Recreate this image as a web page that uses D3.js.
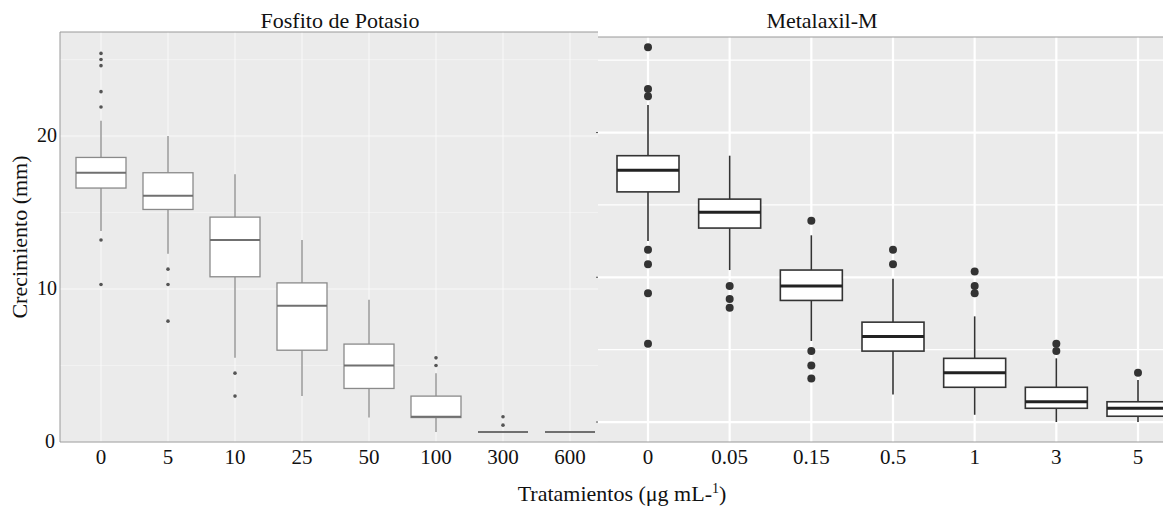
<!DOCTYPE html>
<html lang="es">
<head>
    <meta charset="UTF-8">
    <title>Crecimiento por tratamiento</title>
    <style>
        body { margin: 0; background: #fff; }
        svg text { font-family: "Liberation Serif", "Times New Roman", "DejaVu Serif", serif; fill: #111; }
    </style>
    <script src="https://d3js.org/d3.v7.min.js"></script>
</head>
<body>
    <div id="chart"></div>
    <script>
        // Fosfito de Potasio (left panel)
        const fosfitoDoses = ["0", "5", "10", "25", "50", "100", "300", "600"];
        const fosfitoLow  = [13.8, 12.3, 5.5, 3.0, 1.6, 0.65, 0.65, 0.65];
        const fosfitoQ1   = [16.6, 15.2, 10.8, 6.0, 3.5, 1.6, 0.65, 0.65];
        const fosfitoMed  = [17.6, 16.1, 13.2, 8.9, 5.0, 1.65, 0.65, 0.65];
        const fosfitoQ3   = [18.6, 17.6, 14.7, 10.4, 6.4, 3.0, 0.65, 0.65];
        const fosfitoHigh = [21.0, 20.0, 17.5, 13.2, 9.3, 4.5, 0.65, 0.65];
        const fosfitoOut  = [
            [25.4, 25.0, 24.6, 22.9, 21.9, 13.2, 10.3],
            [11.3, 10.3, 7.9],
            [4.5, 3.0],
            [], [],
            [5.0, 5.5],
            [1.1, 1.65],
            []
        ];
        const fosfitoTicks = [0, 10, 20];

        // Metalaxil-M (right panel)
        const metaDoses = ["0", "0.05", "0.15", "0.5", "1", "3", "5"];
        const metaLow  = [12.5, 10.5, 5.6, 1.9, 0.5, 0.0, 0.0];
        const metaQ1   = [15.9, 13.4, 8.4, 4.9, 2.4, 0.95, 0.4];
        const metaMed  = [17.4, 14.5, 9.4, 5.9, 3.4, 1.4, 0.95];
        const metaQ3   = [18.4, 15.4, 10.5, 6.9, 4.4, 2.4, 1.4];
        const metaHigh = [21.9, 18.4, 12.9, 9.9, 7.3, 4.4, 2.9];
        const metaOut  = [
            [25.9, 23.0, 22.5, 11.9, 10.9, 8.9, 5.4],
            [9.4, 8.5, 7.9],
            [13.9, 4.9, 3.9, 3.0],
            [11.9, 10.9],
            [10.4, 9.4, 8.9],
            [5.4, 4.9],
            [3.4]
        ];
        const metaMajor = [0, 10, 20];
        const metaMinor = [5, 15, 25];

        const width = 1163, height = 506;
        const svg = d3.select("#chart").append("svg")
            .attr("width", width)
            .attr("height", height)
            .attr("font-family", "'Liberation Serif', 'Times New Roman', serif");

        function rows(doses, low, q1, med, q3, high, out) {
            return doses.map((d, i) => ({ dose: d, low: low[i], q1: q1[i], med: med[i], q3: q3[i], high: high[i], out: out[i] }));
        }

        function drawPanel(opts) {
            const g = svg.append("g");
            const x = d3.scalePoint().domain(opts.doses).range(opts.xRange);
            const y = d3.scaleLinear().domain(opts.yDomain).range([opts.bottom, opts.top]);

            g.append("rect")
                .attr("x", opts.left).attr("y", opts.top)
                .attr("width", opts.right - opts.left).attr("height", opts.bottom - opts.top)
                .attr("fill", opts.bg);

            // grid
            g.selectAll(".minor").data(opts.minor).join("line")
                .attr("x1", opts.left).attr("x2", opts.right)
                .attr("y1", d => y(d)).attr("y2", d => y(d))
                .attr("stroke", "#fff").attr("stroke-opacity", opts.gridOpacity).attr("stroke-width", 1.2);
            g.selectAll(".major").data(opts.major).join("line")
                .attr("x1", opts.left).attr("x2", opts.right)
                .attr("y1", d => y(d)).attr("y2", d => y(d))
                .attr("stroke", "#fff").attr("stroke-opacity", opts.gridOpacity).attr("stroke-width", 2.2);
            g.selectAll(".vgrid").data(opts.doses).join("line")
                .attr("x1", d => x(d)).attr("x2", d => x(d))
                .attr("y1", opts.top).attr("y2", opts.bottom)
                .attr("stroke", "#fff").attr("stroke-opacity", opts.gridOpacity).attr("stroke-width", 2.2);

            // frame lines
            g.append("line").attr("x1", opts.left).attr("x2", opts.right)
                .attr("y1", opts.top).attr("y2", opts.top).attr("stroke", "#999");
            g.append("line").attr("x1", opts.left).attr("x2", opts.right)
                .attr("y1", opts.bottom).attr("y2", opts.bottom).attr("stroke", "#999");

            const data = rows(opts.doses, opts.low, opts.q1, opts.med, opts.q3, opts.high, opts.out);
            const bw = opts.boxWidth;
            const box = g.selectAll(".box").data(data).join("g");

            box.append("line")
                .attr("x1", d => x(d.dose)).attr("x2", d => x(d.dose))
                .attr("y1", d => y(d.q3)).attr("y2", d => y(d.high))
                .attr("stroke", opts.stroke).attr("stroke-width", opts.lineW);
            box.append("line")
                .attr("x1", d => x(d.dose)).attr("x2", d => x(d.dose))
                .attr("y1", d => y(d.q1)).attr("y2", d => y(d.low))
                .attr("stroke", opts.stroke).attr("stroke-width", opts.lineW);
            box.append("rect")
                .attr("x", d => x(d.dose) - bw / 2).attr("width", bw)
                .attr("y", d => y(d.q3)).attr("height", d => y(d.q1) - y(d.q3))
                .attr("fill", "#fff").attr("stroke", opts.stroke).attr("stroke-width", opts.lineW);
            box.append("line")
                .attr("x1", d => x(d.dose) - bw / 2).attr("x2", d => x(d.dose) + bw / 2)
                .attr("y1", d => y(d.med)).attr("y2", d => y(d.med))
                .attr("stroke", opts.medStroke).attr("stroke-width", opts.medW);
            box.selectAll("circle").data(d => d.out.map(v => ({ dose: d.dose, v }))).join("circle")
                .attr("cx", d => x(d.dose)).attr("cy", d => y(d.v))
                .attr("r", opts.dotR).attr("fill", opts.dotFill);

            // x tick labels
            g.selectAll(".xt").data(opts.doses).join("text")
                .attr("x", d => x(d)).attr("y", opts.bottom + 22)
                .attr("text-anchor", "middle").attr("font-size", 21)
                .text(d => d);

            g.append("text")
                .attr("x", opts.titleX).attr("y", opts.titleY)
                .attr("text-anchor", "middle").attr("font-size", 22)
                .text(opts.title);

            return { g, x, y };
        }

        const left = drawPanel({
            doses: fosfitoDoses, low: fosfitoLow, q1: fosfitoQ1, med: fosfitoMed, q3: fosfitoQ3, high: fosfitoHigh, out: fosfitoOut,
            left: 60, right: 598, top: 32, bottom: 442, xRange: [101, 570], yDomain: [0, 26.8],
            major: fosfitoTicks, minor: [5, 15, 25], gridOpacity: 0.35, bg: "#ebebeb",
            boxWidth: 50, stroke: "#8a8a8a", medStroke: "#707070", lineW: 1.3, medW: 2, dotR: 1.8, dotFill: "#555",
            title: "Fosfito de Potasio", titleX: 340, titleY: 28
        });

        const right = drawPanel({
            doses: metaDoses, low: metaLow, q1: metaQ1, med: metaMed, q3: metaQ3, high: metaHigh, out: metaOut,
            left: 598, right: 1163, top: 37, bottom: 442, xRange: [648, 1138], yDomain: [-1.38, 26.6],
            major: metaMajor, minor: metaMinor, gridOpacity: 1, bg: "#ebebeb",
            boxWidth: 62, stroke: "#333", medStroke: "#222", lineW: 1.6, medW: 3, dotR: 4, dotFill: "#333",
            title: "Metalaxil-M", titleX: 822, titleY: 28
        });

        // left border of the left panel and y labels
        svg.append("line").attr("x1", 60).attr("x2", 60).attr("y1", 32).attr("y2", 442).attr("stroke", "#999");
        svg.selectAll(".yt").data(fosfitoTicks).join("text")
            .attr("x", d => d === 0 ? 55 : 57).attr("y", d => left.y(d) + 6)
            .attr("text-anchor", "end").attr("font-size", 20)
            .text(d => d);

        // tiny y ticks of the right panel
        svg.selectAll(".rt").data(metaMajor).join("line")
            .attr("x1", 596).attr("x2", 598)
            .attr("y1", d => right.y(d)).attr("y2", d => right.y(d))
            .attr("stroke", "#555");

        svg.append("text")
            .attr("transform", "translate(27,237) rotate(-90)")
            .attr("text-anchor", "middle").attr("font-size", 22)
            .text("Crecimiento (mm)");

        const xt = svg.append("text")
            .attr("x", 622).attr("y", 501)
            .attr("text-anchor", "middle").attr("font-size", 22);
        xt.append("tspan").text("Tratamientos (μg mL-");
        xt.append("tspan").attr("font-size", 14).attr("dy", -8).text("1");
        xt.append("tspan").attr("dy", 8).text(")");
    </script>
</body>
</html>
